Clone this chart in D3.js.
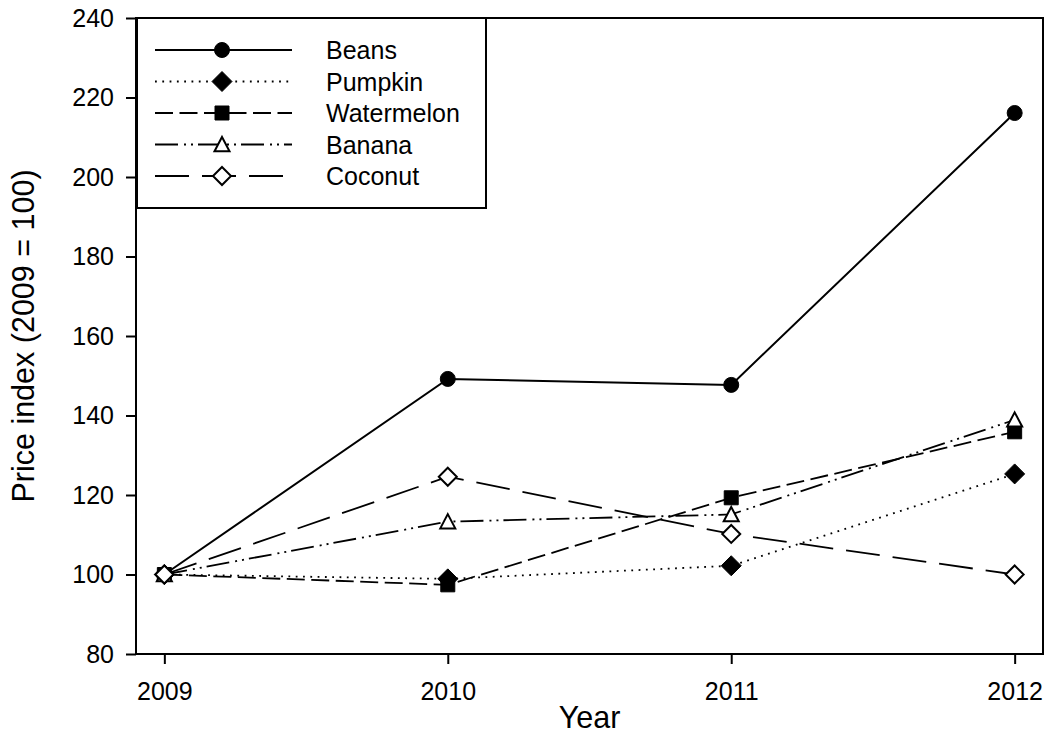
<!DOCTYPE html>
<html>
<head>
<meta charset="utf-8">
<script src="https://cdn.jsdelivr.net/npm/d3@7"></script>
<style>
  html, body { margin: 0; padding: 0; background: #fff; }
  svg { display: block; font-family: "Liberation Sans", Arial, sans-serif; }
</style>
</head>
<body>
<svg id="chart" width="1046" height="735"></svg>
<script>
// Price index per commodity, 2009 = 100
const years = [2009, 2010, 2011, 2012];
const beans = [100, 149.2, 147.7, 216.1];
const pumpkin = [100, 98.9, 102.2, 125.3];
const watermelon = [100, 97.4, 119.3, 135.9];
const banana = [100, 113.3, 115.1, 138.9];
const coconut = [100, 124.6, 110.2, 100];
const yTicks = [80, 100, 120, 140, 160, 180, 200, 220, 240];
const seriesNames = ["Beans", "Pumpkin", "Watermelon", "Banana", "Coconut"];

const series = [
  { name: seriesNames[0], values: beans, dash: null, marker: "circle", fill: "#000", r: 7.5 },
  { name: seriesNames[1], values: pumpkin, dash: "1.8,5.5", marker: "diamond", fill: "#000", r: 10 },
  { name: seriesNames[2], values: watermelon, dash: "18,6.5", marker: "square", fill: "#000", r: 7 },
  { name: seriesNames[3], values: banana, dash: "23,6,2,5,2,5", marker: "triangle", fill: "#fff", r: 7.5 },
  { name: seriesNames[4], values: coconut, dash: "34,13", marker: "diamond", fill: "#fff", r: 9 }
];

const svg = d3.select("#chart");
const m = { left: 136, right: 1043, top: 18, bottom: 654 };

const x = d3.scaleLinear().domain([2008.9, 2012.1]).range([m.left, m.right]);
const y = d3.scaleLinear().domain([80, 240]).range([m.bottom, m.top]);

// Marker shapes, r is the half-width of the glyph
function markerPath(kind, r) {
  const p = d3.path();
  if (kind === "circle") { p.arc(0, 0, r, 0, 2 * Math.PI); }
  else if (kind === "diamond") { p.moveTo(0, -r); p.lineTo(r, 0); p.lineTo(0, r); p.lineTo(-r, 0); p.closePath(); }
  else if (kind === "square") { p.rect(-r, -r, 2 * r, 2 * r); }
  else if (kind === "triangle") { p.moveTo(0, -r); p.lineTo(r, r * 0.9); p.lineTo(-r, r * 0.9); p.closePath(); }
  return p.toString();
}
function drawMarker(g, s, cx, cy) {
  const open = s.fill === "#fff";
  g.append("path")
    .attr("d", markerPath(s.marker, s.r))
    .attr("transform", `translate(${cx},${cy})`)
    .attr("fill", s.fill)
    .attr("stroke", "#000")
    .attr("stroke-width", open ? 2 : 1);
}

// Axes
const yAxis = d3.axisLeft(y).tickValues(yTicks).tickSize(10).tickPadding(12);
const gy = svg.append("g").attr("transform", `translate(${m.left},0)`).call(yAxis);
gy.select(".domain").remove();
gy.selectAll(".tick line").attr("stroke", "#000").attr("stroke-width", 2);
gy.selectAll(".tick text").attr("fill", "#000").style("font-size", "25px");

const xAxis = d3.axisBottom(x).tickValues(years).tickFormat(d3.format("d")).tickSize(10).tickPadding(18);
const gx = svg.append("g").attr("transform", `translate(0,${m.bottom})`).call(xAxis);
gx.select(".domain").remove();
gx.selectAll(".tick line").attr("stroke", "#000").attr("stroke-width", 2);
gx.selectAll(".tick text").attr("fill", "#000").style("font-size", "25px");

// Frame
svg.append("rect")
  .attr("x", m.left).attr("y", m.top)
  .attr("width", m.right - m.left).attr("height", m.bottom - m.top)
  .attr("fill", "none").attr("stroke", "#000").attr("stroke-width", 2);

// Axis titles
svg.append("text")
  .attr("transform", `translate(34,${(m.top + m.bottom) / 2}) rotate(-90)`)
  .attr("text-anchor", "middle")
  .style("font-size", "30.5px")
  .text("Price index (2009 = 100)");
svg.append("text")
  .attr("x", (m.left + m.right) / 2).attr("y", 728)
  .attr("text-anchor", "middle")
  .style("font-size", "30.5px")
  .text("Year");

// Series lines
const line = d3.line().x((d, i) => x(years[i])).y(d => y(d));
const plot = svg.append("g");
series.forEach(s => {
  plot.append("path")
    .datum(s.values)
    .attr("d", line)
    .attr("fill", "none")
    .attr("stroke", "#000")
    .attr("stroke-width", s.dash ? 1.8 : 2)
    .attr("stroke-dasharray", s.dash);
});
series.forEach(s => {
  s.values.forEach((v, i) => drawMarker(plot, s, x(years[i]), y(v)));
});

// Legend
const lg = svg.append("g");
lg.append("rect")
  .attr("x", 137).attr("y", 18).attr("width", 349).attr("height", 190)
  .attr("fill", "#fff").attr("stroke", "#000").attr("stroke-width", 2);
series.forEach((s, i) => {
  const ly = 50 + i * 31.5;
  lg.append("line")
    .attr("x1", 155).attr("x2", 292).attr("y1", ly).attr("y2", ly)
    .attr("stroke", "#000")
    .attr("stroke-width", s.dash ? 1.8 : 2)
    .attr("stroke-dasharray", s.dash);
  drawMarker(lg, s, 222, ly);
  lg.append("text")
    .attr("x", 326).attr("y", ly + 9)
    .style("font-size", "25px")
    .text(s.name);
});
</script>
</body>
</html>
